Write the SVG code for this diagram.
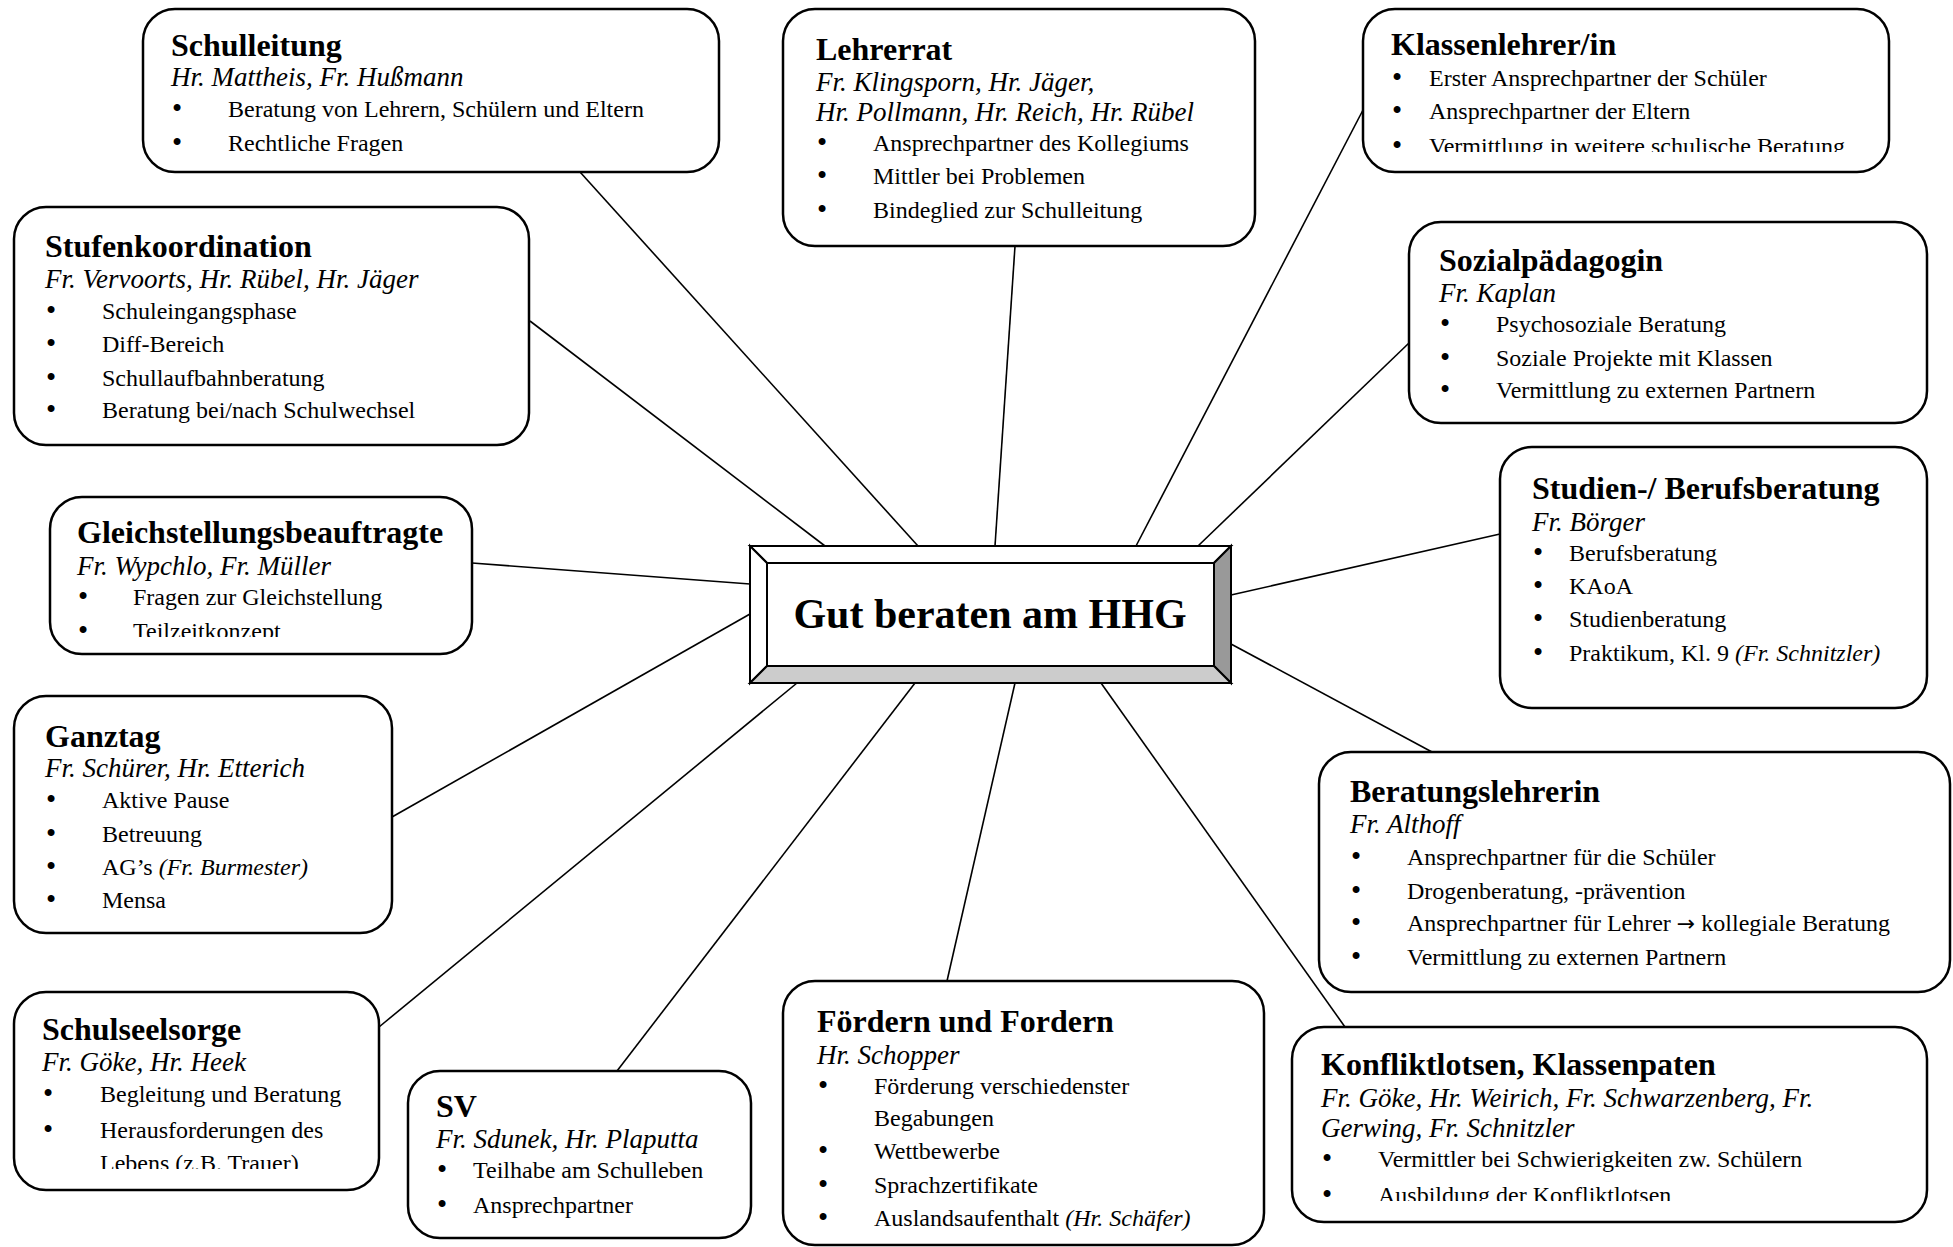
<svg xmlns="http://www.w3.org/2000/svg" width="1953" height="1247" viewBox="0 0 1953 1247">
<style>
text{font-family:"Liberation Serif","Times New Roman",serif;fill:#000}
.box{fill:#fff;stroke:#000;stroke-width:2.5}
.t{font-weight:bold;font-size:32px}
.n{font-style:italic;font-size:27px}
.b{font-size:24px}
.d{font-size:29px}
.i{font-style:italic}
.ar{font-family:"DejaVu Sans",sans-serif;font-size:22px}
#connectors line{stroke:#000;stroke-width:1.6}
.bev{stroke:#000;stroke-width:2;stroke-linejoin:miter}
</style>
<defs>
<clipPath id="c1"><rect x="1363" y="0" width="530" height="152"/></clipPath>
<clipPath id="c2"><rect x="50" y="480" width="425" height="157"/></clipPath>
<clipPath id="c3"><rect x="14" y="980" width="370" height="189"/></clipPath>
<clipPath id="c4"><rect x="1292" y="1020" width="640" height="181"/></clipPath>
</defs>
<rect width="1953" height="1247" fill="#fff"/>
<g id="connectors">
<line x1="580" y1="172" x2="918" y2="546"/>
<line x1="530" y1="321" x2="825" y2="546"/>
<line x1="1015" y1="246" x2="995" y2="546"/>
<line x1="1363" y1="110" x2="1136" y2="546"/>
<line x1="1409" y1="343" x2="1198" y2="546"/>
<line x1="472" y1="563" x2="750" y2="584"/>
<line x1="392" y1="817" x2="750" y2="614"/>
<line x1="379" y1="1027" x2="797" y2="683"/>
<line x1="617" y1="1071" x2="915" y2="683"/>
<line x1="947" y1="981" x2="1015" y2="683"/>
<line x1="1345" y1="1027" x2="1101" y2="683"/>
<line x1="1432" y1="752" x2="1231" y2="644"/>
<line x1="1500" y1="534" x2="1231" y2="595"/>
</g>
<g id="center">
<rect x="750" y="546" width="481" height="137" fill="#fff"/>
<polygon class="bev" points="750,546 1231,546 1214,563 767,563" fill="#fff"/>
<polygon class="bev" points="750,546 767,563 767,666 750,683" fill="#fff"/>
<polygon class="bev" points="1231,546 1231,683 1214,666 1214,563" fill="#999"/>
<polygon class="bev" points="750,683 767,666 1214,666 1231,683" fill="#ccc"/>
<rect class="bev" x="767" y="563" width="447" height="103" fill="#fff"/>
<text x="990" y="628" text-anchor="middle" font-weight="bold" font-size="42">Gut beraten am HHG</text>
</g>
<g id="schulleitung">
<rect class="box" x="143" y="9" width="576" height="163" rx="32"/>
<text class="t" x="171" y="56">Schulleitung</text>
<text class="n" x="171" y="86">Hr. Mattheis, Fr. Hußmann</text>
<text class="d" x="172" y="118">•</text><text class="b" x="228" y="117">Beratung von Lehrern, Schülern und Eltern</text>
<text class="d" x="172" y="152">•</text><text class="b" x="228" y="151">Rechtliche Fragen</text>
</g>
<g id="lehrerrat">
<rect class="box" x="783" y="9" width="472" height="237" rx="32"/>
<text class="t" x="816" y="60">Lehrerrat</text>
<text class="n" x="816" y="91">Fr. Klingsporn, Hr. Jäger,</text>
<text class="n" x="816" y="121">Hr. Pollmann, Hr. Reich, Hr. Rübel</text>
<text class="d" x="817" y="152">•</text><text class="b" x="873" y="151">Ansprechpartner des Kollegiums</text>
<text class="d" x="817" y="185">•</text><text class="b" x="873" y="184">Mittler bei Problemen</text>
<text class="d" x="817" y="219">•</text><text class="b" x="873" y="218">Bindeglied zur Schulleitung</text>
</g>
<g id="klassenlehrer">
<rect class="box" x="1363" y="9" width="526" height="163" rx="32"/>
<text class="t" x="1391" y="55">Klassenlehrer/in</text>
<text class="d" x="1392" y="87">•</text><text class="b" x="1429" y="86">Erster Ansprechpartner der Schüler</text>
<text class="d" x="1392" y="120">•</text><text class="b" x="1429" y="119">Ansprechpartner der Eltern</text>
<g clip-path="url(#c1)"><text class="d" x="1392" y="155">•</text><text class="b" x="1429" y="154">Vermittlung in weitere schulische Beratung</text></g>
</g>
<g id="stufenkoordination">
<rect class="box" x="14" y="207" width="515" height="238" rx="32"/>
<text class="t" x="45" y="257">Stufenkoordination</text>
<text class="n" x="45" y="288">Fr. Vervoorts, Hr. Rübel, Hr. Jäger</text>
<text class="d" x="46" y="320">•</text><text class="b" x="102" y="319">Schuleingangsphase</text>
<text class="d" x="46" y="353">•</text><text class="b" x="102" y="352">Diff-Bereich</text>
<text class="d" x="46" y="387">•</text><text class="b" x="102" y="386">Schullaufbahnberatung</text>
<text class="d" x="46" y="419">•</text><text class="b" x="102" y="418">Beratung bei/nach Schulwechsel</text>
</g>
<g id="sozialpaedagogin">
<rect class="box" x="1409" y="222" width="518" height="201" rx="32"/>
<text class="t" x="1439" y="271">Sozialpädagogin</text>
<text class="n" x="1439" y="302">Fr. Kaplan</text>
<text class="d" x="1440" y="333">•</text><text class="b" x="1496" y="332">Psychosoziale Beratung</text>
<text class="d" x="1440" y="367">•</text><text class="b" x="1496" y="366">Soziale Projekte mit Klassen</text>
<text class="d" x="1440" y="399">•</text><text class="b" x="1496" y="398">Vermittlung zu externen Partnern</text>
</g>
<g id="gleichstellung">
<rect class="box" x="50" y="497" width="422" height="157" rx="32"/>
<text class="t" x="77" y="543">Gleichstellungsbeauftragte</text>
<text class="n" x="77" y="575">Fr. Wypchlo, Fr. Müller</text>
<text class="d" x="78" y="606">•</text><text class="b" x="133" y="605">Fragen zur Gleichstellung</text>
<g clip-path="url(#c2)"><text class="d" x="78" y="640">•</text><text class="b" x="133" y="639">Teilzeitkonzept</text></g>
</g>
<g id="studienberatung">
<rect class="box" x="1500" y="447" width="427" height="261" rx="32"/>
<text class="t" x="1532" y="499">Studien-/ Berufsberatung</text>
<text class="n" x="1532" y="531">Fr. Börger</text>
<text class="d" x="1533" y="562">•</text><text class="b" x="1569" y="561">Berufsberatung</text>
<text class="d" x="1533" y="595">•</text><text class="b" x="1569" y="594">KAoA</text>
<text class="d" x="1533" y="628">•</text><text class="b" x="1569" y="627">Studienberatung</text>
<text class="d" x="1533" y="662">•</text><text class="b" x="1569" y="661">Praktikum, Kl. 9 <tspan class="i">(Fr. Schnitzler)</tspan></text>
</g>
<g id="ganztag">
<rect class="box" x="14" y="696" width="378" height="237" rx="32"/>
<text class="t" x="45" y="747">Ganztag</text>
<text class="n" x="45" y="777">Fr. Schürer, Hr. Etterich</text>
<text class="d" x="46" y="809">•</text><text class="b" x="102" y="808">Aktive Pause</text>
<text class="d" x="46" y="843">•</text><text class="b" x="102" y="842">Betreuung</text>
<text class="d" x="46" y="876">•</text><text class="b" x="102" y="875">AG’s <tspan class="i">(Fr. Burmester)</tspan></text>
<text class="d" x="46" y="909">•</text><text class="b" x="102" y="908">Mensa</text>
</g>
<g id="beratungslehrerin">
<rect class="box" x="1319" y="752" width="631" height="240" rx="32"/>
<text class="t" x="1350" y="802">Beratungslehrerin</text>
<text class="n" x="1350" y="833">Fr. Althoff</text>
<text class="d" x="1351" y="866">•</text><text class="b" x="1407" y="865">Ansprechpartner für die Schüler</text>
<text class="d" x="1351" y="900">•</text><text class="b" x="1407" y="899">Drogenberatung, -prävention</text>
<text class="d" x="1351" y="932">•</text><text class="b" x="1407" y="931">Ansprechpartner für Lehrer <tspan class="ar">→</tspan> kollegiale Beratung</text>
<text class="d" x="1351" y="966">•</text><text class="b" x="1407" y="965">Vermittlung zu externen Partnern</text>
</g>
<g id="schulseelsorge">
<rect class="box" x="14" y="992" width="365" height="198" rx="32"/>
<text class="t" x="42" y="1040">Schulseelsorge</text>
<text class="n" x="42" y="1071">Fr. Göke, Hr. Heek</text>
<text class="d" x="43" y="1103">•</text><text class="b" x="100" y="1102">Begleitung und Beratung</text>
<text class="d" x="43" y="1139">•</text><text class="b" x="100" y="1138">Herausforderungen des</text>
<g clip-path="url(#c3)"><text class="b" x="100" y="1171">Lebens (z.B. Trauer)</text></g>
</g>
<g id="sv">
<rect class="box" x="408" y="1071" width="343" height="167" rx="32"/>
<text class="t" x="436" y="1117">SV</text>
<text class="n" x="436" y="1148">Fr. Sdunek, Hr. Plaputta</text>
<text class="d" x="437" y="1179">•</text><text class="b" x="473" y="1178">Teilhabe am Schulleben</text>
<text class="d" x="437" y="1214">•</text><text class="b" x="473" y="1213">Ansprechpartner</text>
</g>
<g id="foerdern">
<rect class="box" x="783" y="981" width="481" height="264" rx="32"/>
<text class="t" x="817" y="1032">Fördern und Fordern</text>
<text class="n" x="817" y="1064">Hr. Schopper</text>
<text class="d" x="818" y="1095">•</text><text class="b" x="874" y="1094">Förderung verschiedenster</text>
<text class="b" x="874" y="1126">Begabungen</text>
<text class="d" x="818" y="1160">•</text><text class="b" x="874" y="1159">Wettbewerbe</text>
<text class="d" x="818" y="1194">•</text><text class="b" x="874" y="1193">Sprachzertifikate</text>
<text class="d" x="818" y="1227">•</text><text class="b" x="874" y="1226">Auslandsaufenthalt <tspan class="i">(Hr. Schäfer)</tspan></text>
</g>
<g id="konfliktlotsen">
<rect class="box" x="1292" y="1027" width="635" height="195" rx="32"/>
<text class="t" x="1321" y="1075">Konfliktlotsen, Klassenpaten</text>
<text class="n" x="1321" y="1107">Fr. Göke, Hr. Weirich, Fr. Schwarzenberg, Fr.</text>
<text class="n" x="1321" y="1137">Gerwing, Fr. Schnitzler</text>
<text class="d" x="1322" y="1168">•</text><text class="b" x="1378" y="1167">Vermittler bei Schwierigkeiten zw. Schülern</text>
<g clip-path="url(#c4)"><text class="d" x="1322" y="1204">•</text><text class="b" x="1378" y="1203">Ausbildung der Konfliktlotsen</text></g>
</g>
</svg>
